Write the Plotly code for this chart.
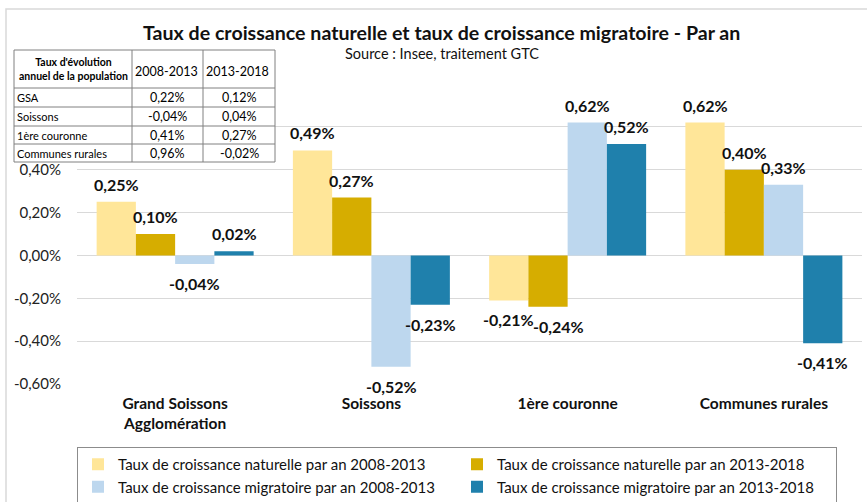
import plotly.graph_objects as go

categories = ["Grand Soissons<br>Agglomération", "Soissons", "1ère couronne", "Communes rurales"]
series_names = [
    "Taux de croissance naturelle par an 2008-2013",
    "Taux de croissance naturelle par an 2013-2018",
    "Taux de croissance migratoire par an 2008-2013",
    "Taux de croissance migratoire par an 2013-2018",
]
nat_2008_2013 = [0.25, 0.49, -0.21, 0.62]
nat_2013_2018 = [0.10, 0.27, -0.24, 0.40]
mig_2008_2013 = [-0.04, -0.52, 0.62, 0.33]
mig_2013_2018 = [0.02, -0.23, 0.52, -0.41]
colors = ["#FFE699", "#D6AD00", "#BDD7EE", "#1F80AC"]

y_tickvals = [-0.6, -0.4, -0.2, 0.0, 0.2, 0.4, 0.6, 0.8]
y_ticktext = ["-0,60%", "-0,40%", "-0,20%", "0,00%", "0,20%", "0,40%", "", ""]

table_labels = ["GSA", "Soissons", "1ère couronne", "Communes rurales"]
table_2008_2013 = [0.22, -0.04, 0.41, 0.96]
table_2013_2018 = [0.12, 0.04, 0.27, -0.02]

FONT = "Lato"
W, H = 867, 502
L, R, T, B = 77, 5, 84, 118
PW = W - L - R
PH = H - T - B
BARGAP = 0.2
BAR_PX = PW / len(categories) * (1 - BARGAP) / 4


def px(x):
    return (x - L) / PW


def py(y):
    return (H - B - y) / PH


def fmt(v):
    return f"{v:.2f}".replace(".", ",") + "%"


all_series = [nat_2008_2013, nat_2013_2018, mig_2008_2013, mig_2013_2018]
annotations = []
fig = go.Figure()
for i, (name, vals, col) in enumerate(zip(series_names, all_series, colors)):
    fig.add_trace(go.Bar(
        x=categories, y=vals, name=name, marker=dict(color=col, line=dict(width=0)),
        hoverinfo="skip",
    ))
    for c, v in zip(categories, vals):
        nudge = 10 if (i == 1 and c == "1ère couronne") else 0
        annotations.append(dict(
            text="<b>" + fmt(v) + "</b>", x=c, y=v, xref="x", yref="y", showarrow=False,
            xanchor="center", yanchor="bottom" if v >= 0 else "top",
            xshift=(i - 1.5) * BAR_PX + nudge, yshift=6 if v >= 0 else -8,
            font=dict(family=FONT, size=16, color="#111111"),
        ))

shapes = []
# outer chart border
shapes.append(dict(type="rect", xref="paper", yref="paper", x0=px(6), x1=px(875), y0=py(515), y1=py(9),
                   line=dict(color="#d9d9d9", width=1.5), fillcolor="rgba(0,0,0,0)", layer="below"))

# table
cols_x = [14, 132, 203, 275]
rows_y = [50, 88, 107, 126, 144, 162]
shapes.append(dict(type="rect", xref="paper", yref="paper", x0=px(cols_x[0]), x1=px(cols_x[-1]),
                   y0=py(rows_y[-1]), y1=py(rows_y[0]), fillcolor="white",
                   line=dict(color="#808080", width=1), layer="above"))
for cx in cols_x[1:-1]:
    shapes.append(dict(type="line", xref="paper", yref="paper", x0=px(cx), x1=px(cx),
                       y0=py(rows_y[-1]), y1=py(rows_y[0]), line=dict(color="#808080", width=1), layer="above"))
for ry in rows_y[1:-1]:
    shapes.append(dict(type="line", xref="paper", yref="paper", x0=px(cols_x[0]), x1=px(cols_x[-1]),
                       y0=py(ry), y1=py(ry), line=dict(color="#808080", width=1), layer="above"))


def note(text, x, y, size, xanchor="center", align="center"):
    annotations.append(dict(text=text, xref="paper", yref="paper", x=x, y=y, xanchor=xanchor,
                            yanchor="middle", align=align, showarrow=False,
                            font=dict(family=FONT, size=size, color="#000")))


note("<b>Taux d'évolution<br>annuel de la population</b>", px((cols_x[0] + cols_x[1]) / 2),
     py((rows_y[0] + rows_y[1]) / 2), 10.5)
for i, hdr in enumerate(["2008-2013", "2013-2018"]):
    note(hdr, px(cols_x[i + 1] + 1), py((rows_y[0] + rows_y[1]) / 2 + 2), 12.5, xanchor="left")
for r, (lab, a, b) in enumerate(zip(table_labels, table_2008_2013, table_2013_2018)):
    yc = py((rows_y[r + 1] + rows_y[r + 2]) / 2)
    note(lab, px(cols_x[0] + 1), yc, 11, xanchor="left")
    note(fmt(a), px((cols_x[1] + cols_x[2]) / 2), yc, 12.5)
    note(fmt(b), px((cols_x[2] + cols_x[3]) / 2), yc, 12.5)

# title and subtitle
annotations.append(dict(text="<b>Taux de croissance naturelle et taux de croissance migratoire - Par an</b>",
                        xref="paper", yref="paper", x=px(441), y=py(32), xanchor="center", yanchor="middle",
                        showarrow=False, font=dict(family=FONT, size=19.6, color="#111")))
annotations.append(dict(text="Source : Insee, traitement GTC", xref="paper", yref="paper", x=px(442), y=py(53),
                        xanchor="center", yanchor="middle",
                        showarrow=False, font=dict(family=FONT, size=14.5, color="#111")))

fig.update_layout(
    width=W, height=H, margin=dict(l=L, r=R, t=T, b=B, autoexpand=False),
    paper_bgcolor="white", plot_bgcolor="white",
    separators=", ",
    barmode="group", bargap=BARGAP, bargroupgap=0,
    font=dict(family=FONT, color="#111"),
    shapes=shapes, annotations=annotations,
    legend=dict(orientation="h", x=0, y=py(447), xanchor="left", yanchor="top",
                bordercolor="#8c8c8c", borderwidth=1, font=dict(family=FONT, size=15, color="#111"),
                entrywidth=334, entrywidthmode="pixels", traceorder="normal", itemclick=False,
                tracegroupgap=0),
    showlegend=True,
)
fig.update_xaxes(
    tickvals=categories, ticktext=["<b>" + c + "</b>" for c in categories],
    tickfont=dict(family=FONT, size=15.5, color="#111"), showgrid=False, showline=False, ticks="",
    ticklabelstandoff=8,
)
fig.update_yaxes(
    range=[-0.6, 0.8], tickvals=y_tickvals, ticktext=y_ticktext,
    tickfont=dict(family=FONT, size=15, color="#222"), showgrid=True, gridcolor="#d9d9d9", gridwidth=1,
    zeroline=True, zerolinecolor="#d9d9d9", zerolinewidth=1, showline=False, ticks="", ticklen=0,
    ticklabelstandoff=15,
)
fig.write_html("out.html", config={"displayModeBar": False},
               post_script="document.body.style.margin='0';")
